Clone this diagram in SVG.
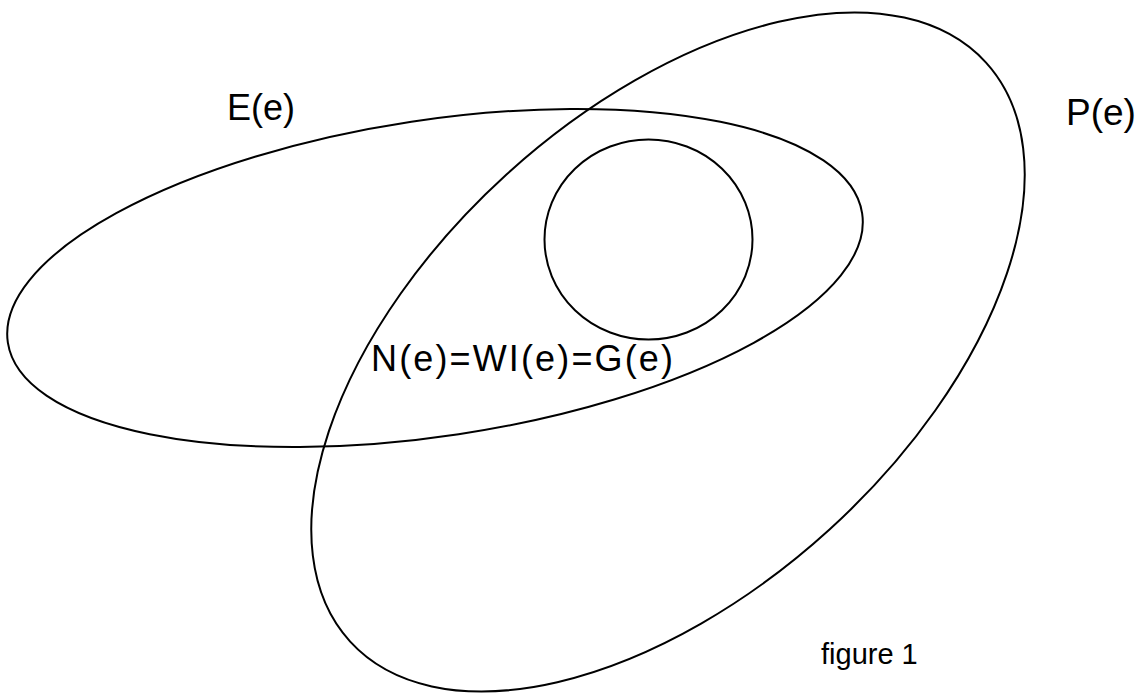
<svg xmlns="http://www.w3.org/2000/svg" width="1144" height="693" viewBox="0 0 1144 693">
<style>
.shape{fill:none;stroke:#000;stroke-width:2}
.lbl{font-family:"Liberation Sans",Arial,sans-serif;fill:#000}
</style>
<rect width="1144" height="693" fill="#fff"/>
<g id="E">
<ellipse class="shape" cx="435" cy="278" rx="432" ry="158" transform="rotate(-8.6 435 278)"/>
<text class="lbl" x="227" y="120" font-size="36">E(e)</text>
</g>
<g id="P">
<ellipse class="shape" cx="668" cy="352" rx="430" ry="240" transform="rotate(-42.3 668 352)"/>
<text class="lbl" x="1066" y="125" font-size="37">P(e)</text>
</g>
<g id="N">
<ellipse class="shape" cx="648.5" cy="239.5" rx="104" ry="100"/>
<text class="lbl" x="371" y="371" font-size="36" textLength="302" lengthAdjust="spacing">N(e)=WI(e)=G(e)</text>
</g>
<text class="lbl" x="821" y="664" font-size="29">figure 1</text>
</svg>
